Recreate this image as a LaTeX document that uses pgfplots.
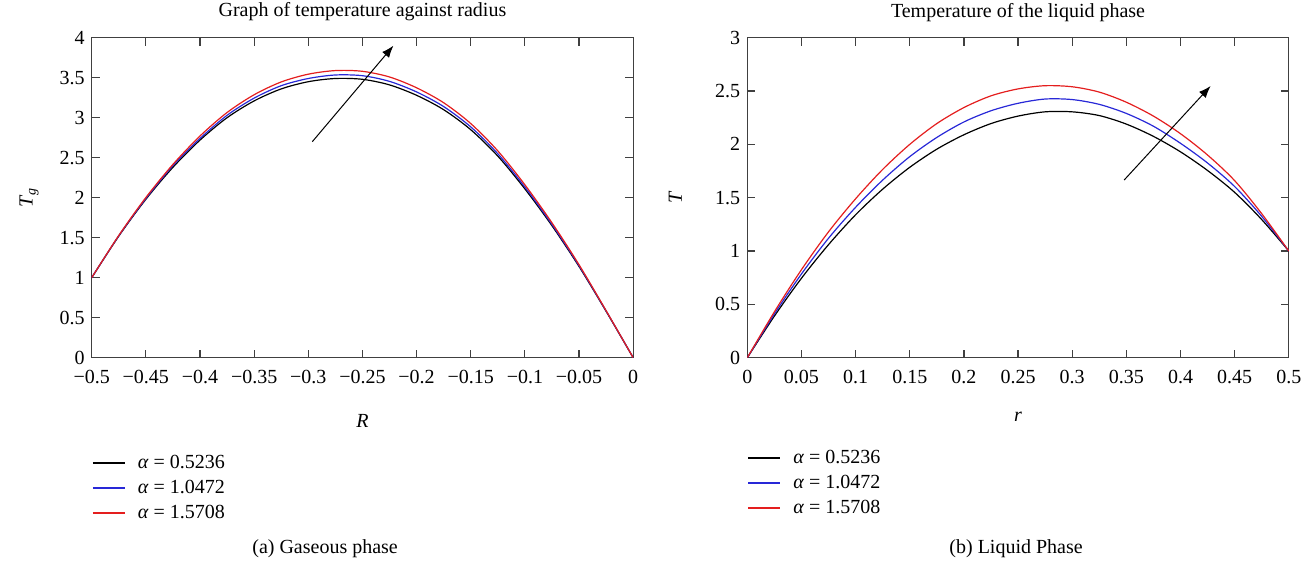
\documentclass[border=0pt]{standalone}
\usepackage{fontspec}
\setmainfont{Liberation Serif}
\usepackage{pgfplots}
\pgfplotsset{compat=1.18}
\usetikzlibrary{arrows.meta}

\definecolor{lineblue}{RGB}{40,40,215}
\definecolor{linered}{RGB}{228,30,30}

\pgfplotsset{
  tempstyle/.style={
    scale only axis,
    width=270.75pt, height=160pt,
    axis line style={line width=0.6pt, black!75},
    tick style={line width=0.6pt, black!75},
    tick align=inside,
    major tick length=4pt,
    /pgf/number format/assume math mode=true,
    xticklabel style={yshift=-2.5pt},
    every axis title/.style={at={(axis description cs:0.5,1)}, anchor=center, yshift=12.8pt},
    legend cell align=left,
    legend style={draw=none, fill=none, anchor=north west, inner sep=0pt,
      row sep=1.5pt, nodes={inner sep=1pt, text height=7pt, text depth=2pt}},
    legend image code/.code={
      \draw[#1, line width=0.7pt] (0pt,0pt) -- (16pt,0pt);
      \path[draw=none] (0pt,0pt) -- (21.5pt,0pt);
    },
    every axis plot/.append style={line width=0.6pt, smooth, no marks},
  }
}

\begin{document}
\begin{tikzpicture}
\useasboundingbox (-45.85pt,-104.65pt) rectangle (609.65pt,178.85pt);

% (a) gaseous phase
\begin{axis}[
    tempstyle,
    at={(0pt,0pt)},
    title={Graph of temperature against radius},
    xmin=-0.5, xmax=0,
    ymin=0, ymax=4,
    xtick={-0.5,-0.45,-0.4,-0.35,-0.3,-0.25,-0.2,-0.15,-0.1,-0.05,0},
    xticklabels={−0.5,−0.45,−0.4,−0.35,−0.3,−0.25,−0.2,−0.15,−0.1,−0.05,0},
    ytick={0,0.5,1,1.5,2,2.5,3,3.5,4},
    yticklabels={0,0.5,1,1.5,2,2.5,3,3.5,4},
    xlabel={\textit{R}},
    ylabel={\textit{T}\textsubscript{\textit{g}}},
    xlabel style={at={(axis description cs:0.5,-0.198)}, anchor=center},
    ylabel style={at={(axis description cs:-0.1156,0.5)}, anchor=center},
    legend style={at={(0,-0.294)}},
]
\addplot[black] coordinates {
  (-0.5,1.00) (-0.475,1.52) (-0.45,1.98) (-0.425,2.38) (-0.4,2.72)
  (-0.375,3.00) (-0.35,3.21) (-0.325,3.36) (-0.3,3.45) (-0.275,3.49)
  (-0.25,3.48) (-0.225,3.41) (-0.2,3.28) (-0.175,3.10) (-0.15,2.85)
  (-0.125,2.52) (-0.1,2.11) (-0.075,1.65) (-0.05,1.14) (-0.025,0.58) (0,0)
};
\addlegendentry{\textit{α} = 0.5236}
\addplot[lineblue] coordinates {
  (-0.5,1.00) (-0.475,1.524) (-0.45,1.99) (-0.425,2.40) (-0.4,2.74)
  (-0.375,3.03) (-0.35,3.245) (-0.325,3.40) (-0.3,3.49) (-0.275,3.534)
  (-0.25,3.525) (-0.225,3.454) (-0.2,3.322) (-0.175,3.139) (-0.15,2.885)
  (-0.125,2.549) (-0.1,2.133) (-0.075,1.666) (-0.05,1.15) (-0.025,0.584) (0,0)
};
\addlegendentry{\textit{α} = 1.0472}
\addplot[linered] coordinates {
  (-0.5,1.00) (-0.475,1.528) (-0.45,2.002) (-0.425,2.416) (-0.4,2.771)
  (-0.375,3.065) (-0.35,3.287) (-0.325,3.447) (-0.3,3.544) (-0.275,3.589)
  (-0.25,3.58) (-0.225,3.509) (-0.2,3.374) (-0.175,3.187) (-0.15,2.927)
  (-0.125,2.585) (-0.1,2.161) (-0.075,1.686) (-0.05,1.162) (-0.025,0.588) (0,0)
};
\addlegendentry{\textit{α} = 1.5708}
\draw[-{Latex[length=6pt,width=4.5pt]}, line width=0.5pt]
  (axis cs:-0.2963,2.70) -- (axis cs:-0.2214,3.90);
\end{axis}

% (b) liquid phase
\begin{axis}[
    tempstyle,
    at={(327.8pt,0pt)},
    title={Temperature of the liquid phase},
    xmin=0, xmax=0.5,
    ymin=0, ymax=3,
    xtick={0,0.05,0.1,0.15,0.2,0.25,0.3,0.35,0.4,0.45,0.5},
    xticklabels={0,0.05,0.1,0.15,0.2,0.25,0.3,0.35,0.4,0.45,0.5},
    ytick={0,0.5,1,1.5,2,2.5,3},
    yticklabels={0,0.5,1,1.5,2,2.5,3},
    xlabel={\textit{r}},
    ylabel={\textit{T}},
    xlabel style={at={(axis description cs:0.5,-0.185)}, anchor=center},
    ylabel style={at={(axis description cs:-0.133,0.5)}, anchor=center},
    legend style={at={(0,-0.2784)}},
]
\addplot[black] coordinates {
  (0,0) (0.025,0.39) (0.05,0.745) (0.075,1.06) (0.1,1.34) (0.125,1.58)
  (0.15,1.785) (0.175,1.955) (0.2,2.09) (0.225,2.195) (0.25,2.265)
  (0.275,2.305) (0.3,2.305) (0.325,2.27) (0.35,2.19) (0.375,2.075)
  (0.4,1.93) (0.425,1.755) (0.45,1.55) (0.475,1.295) (0.5,1.00)
};
\addlegendentry{\textit{α} = 0.5236}
\addplot[lineblue] coordinates {
  (0,0) (0.025,0.41) (0.05,0.785) (0.075,1.12) (0.1,1.41) (0.125,1.665)
  (0.15,1.885) (0.175,2.065) (0.2,2.21) (0.225,2.315) (0.25,2.385)
  (0.275,2.425) (0.3,2.42) (0.325,2.375) (0.35,2.29) (0.375,2.17)
  (0.4,2.01) (0.425,1.825) (0.45,1.605) (0.475,1.325) (0.5,1.00)
};
\addlegendentry{\textit{α} = 1.0472}
\addplot[linered] coordinates {
  (0,0) (0.025,0.43) (0.05,0.825) (0.075,1.18) (0.1,1.49) (0.125,1.765)
  (0.15,2.00) (0.175,2.195) (0.2,2.345) (0.225,2.455) (0.25,2.52)
  (0.275,2.55) (0.3,2.54) (0.325,2.49) (0.35,2.395) (0.375,2.265)
  (0.4,2.10) (0.425,1.90) (0.45,1.66) (0.475,1.35) (0.5,1.00)
};
\addlegendentry{\textit{α} = 1.5708}
\draw[-{Latex[length=6pt,width=4.5pt]}, line width=0.5pt]
  (axis cs:0.348,1.666) -- (axis cs:0.4278,2.547);
\end{axis}

\node at (116.7pt,-95.7pt) {(a) Gaseous phase};
\node at (462.2pt,-95.7pt) {(b) Liquid Phase};
\end{tikzpicture}
\end{document}
